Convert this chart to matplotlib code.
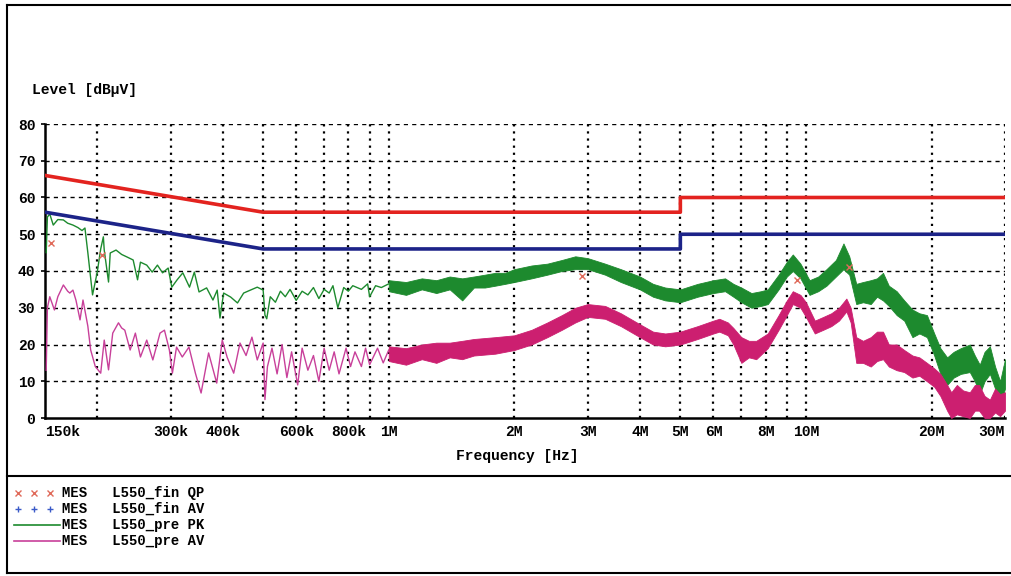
import numpy as np
import matplotlib
matplotlib.use('Agg')
import matplotlib.pyplot as plt
from matplotlib.lines import Line2D

plt.rcParams['font.family'] = ['Liberation Mono', 'DejaVu Sans Mono']
plt.rcParams['font.weight'] = 'bold'

# limit lines (EN55022 class B style), MHz / dBuV
qp_lim_f = [0.15, 0.5, 0.5, 5.0, 5.0, 30.0]
qp_lim_v = [66, 56, 56, 56, 60, 60]
av_lim_f = [0.15, 0.5, 0.5, 5.0, 5.0, 30.0]
av_lim_v = [56, 46, 46, 46, 50, 50]

# PK pre-scan, low frequency part (thin trace)
pk_f = [0.151, 0.152, 0.154, 0.157, 0.161, 0.166, 0.170, 0.175, 0.180, 0.184, 0.187, 0.190,
        0.195, 0.200, 0.204, 0.207, 0.208, 0.213, 0.215, 0.222, 0.229, 0.236, 0.244, 0.250,
        0.254, 0.263, 0.271, 0.279, 0.287, 0.296, 0.302, 0.311, 0.321, 0.333, 0.342, 0.351,
        0.366, 0.379, 0.388, 0.394, 0.402, 0.418, 0.434, 0.449, 0.466, 0.484, 0.500, 0.505,
        0.510, 0.520, 0.535, 0.550, 0.565, 0.580, 0.600, 0.620, 0.640, 0.660, 0.680, 0.700,
        0.720, 0.735, 0.755, 0.780, 0.800, 0.820, 0.860, 0.890, 0.900, 0.930, 0.960, 1.0]
pk_v = [45.0, 54.7, 55.5, 52.5, 54.0, 53.9, 53.0, 52.5, 51.8, 51.0, 51.7, 45.0,
        33.5, 39.5, 46.0, 49.3, 45.7, 37.0, 44.9, 45.7, 44.5, 43.8, 43.0, 37.6,
        42.4, 41.6, 39.7, 41.6, 39.5, 40.8, 35.6, 37.6, 39.5, 35.6, 39.7, 34.3,
        35.4, 32.1, 34.8, 27.2, 34.0, 32.9, 31.3, 34.0, 34.8, 35.6, 34.8, 28.0,
        27.0, 33.0, 31.5, 34.5, 33.0, 35.0, 32.0, 34.5, 33.5, 35.5, 32.5, 35.0,
        34.0, 36.0, 30.0, 35.5, 34.5, 36.0, 35.0, 36.5, 33.0, 36.0, 35.5, 36.5]

# PK pre-scan, high frequency part (dense noisy band: lower / upper edge)
pk_band_f = [1.0, 1.1, 1.2, 1.3, 1.4, 1.5, 1.6, 1.7, 1.8, 1.9, 2.0, 2.2, 2.4, 2.6, 2.8,
             3.0, 3.3, 3.6, 4.0, 4.3, 4.6, 5.0, 5.5, 6.0, 6.4, 6.7, 7.0, 7.4, 7.8, 8.1,
             8.6, 9.0, 9.3, 9.7, 10.2, 10.7, 11.2, 11.8, 12.3, 12.7, 13.2, 13.7, 14.3,
             14.8, 15.3, 15.8, 16.5, 17.2, 18.0, 18.7, 19.5, 20.3, 21.0, 21.8, 22.6,
             23.5, 24.7, 25.4, 26.1, 26.8, 27.6, 28.4, 29.2, 30.0]
pk_band_lo = [34.5, 33.5, 35.0, 34.0, 35.0, 32.0, 35.5, 35.5, 36.0, 36.5, 37.0, 38.0, 39.0,
              40.0, 40.5, 40.5, 39.0, 37.0, 35.0, 33.0, 32.0, 31.5, 33.0, 34.0, 34.5, 33.0,
              31.5, 30.0, 30.5, 31.0, 35.0, 38.5, 40.0, 38.0, 33.5, 34.5, 36.0, 38.5, 40.5,
              39.0, 31.0, 31.5, 31.0, 33.0, 32.0, 30.5, 28.0, 26.5, 22.0, 23.0, 22.0, 17.0,
              12.0, 9.0, 11.0, 12.0, 12.5, 10.0, 6.5, 10.0, 12.0, 8.0, 3.5, 8.0]
pk_band_hi = [37.5, 37.0, 38.0, 37.5, 38.5, 38.0, 38.5, 39.0, 39.5, 39.5, 40.5, 41.5, 42.0,
              43.0, 44.0, 43.5, 42.0, 40.5, 38.5, 36.5, 35.5, 35.0, 36.5, 37.5, 38.0, 36.5,
              35.5, 34.0, 34.5, 35.0, 39.0, 42.5, 44.5, 42.0, 37.5, 38.5, 40.5, 43.0, 47.5,
              44.0, 36.5, 37.0, 37.5, 38.0, 39.5, 36.0, 34.5, 32.0, 29.5, 28.5, 28.0, 23.0,
              19.0, 16.5, 18.0, 19.0, 20.0, 17.0, 14.5, 18.0, 19.5, 14.0, 10.0, 16.0]

# AV pre-scan, low frequency part
av_f = [0.151, 0.152, 0.154, 0.158, 0.161, 0.166, 0.170, 0.172, 0.175, 0.178, 0.182, 0.185,
        0.190, 0.193, 0.198, 0.204, 0.208, 0.213, 0.218, 0.225, 0.229, 0.233, 0.240, 0.247,
        0.254, 0.263, 0.272, 0.283, 0.290, 0.298, 0.303, 0.310, 0.320, 0.332, 0.344, 0.355,
        0.370, 0.387, 0.399, 0.410, 0.425, 0.440, 0.455, 0.470, 0.484, 0.500, 0.505, 0.512,
        0.525, 0.540, 0.555, 0.570, 0.585, 0.605, 0.620, 0.640, 0.660, 0.680, 0.700, 0.720,
        0.740, 0.760, 0.790, 0.810, 0.830, 0.860, 0.880, 0.900, 0.940, 0.970, 1.0]
av_v = [13.0, 30.0, 33.0, 29.4, 33.0, 36.2, 34.5, 34.0, 34.8, 32.0, 26.7, 32.1,
        25.0, 18.5, 14.0, 12.2, 21.2, 13.1, 23.1, 25.9, 24.5, 23.9, 18.5, 23.1,
        16.6, 21.2, 15.8, 23.1, 23.9, 18.5, 12.2, 19.3, 16.6, 19.3, 12.2, 6.8,
        17.7, 9.5, 21.2, 16.5, 12.2, 20.4, 17.0, 22.0, 15.8, 20.4, 5.0, 14.0,
        19.0, 12.0, 20.0, 11.0, 18.0, 9.0, 19.0, 13.0, 17.0, 10.0, 19.0, 13.0,
        18.0, 12.0, 19.0, 14.0, 18.0, 14.0, 19.0, 14.5, 19.0, 15.0, 18.5]

av_band_f = [1.0, 1.1, 1.2, 1.3, 1.4, 1.5, 1.6, 1.8, 2.0, 2.2, 2.4, 2.6, 2.8, 3.0, 3.3,
             3.6, 4.0, 4.3, 4.6, 5.0, 5.5, 6.0, 6.2, 6.5, 6.7, 7.0, 7.3, 7.6, 8.1, 8.6,
             9.0, 9.3, 9.7, 10.0, 10.5, 11.0, 11.5, 12.0, 12.5, 12.8, 13.2, 13.7, 14.3,
             14.8, 15.3, 15.8, 16.5, 17.2, 18.0, 18.7, 19.5, 20.3, 21.0, 21.8, 22.3,
             23.0, 23.8, 24.7, 25.4, 26.0, 26.8, 27.6, 28.4, 29.2, 30.0]
av_band_lo = [15.5, 14.5, 16.0, 15.0, 16.5, 16.0, 17.0, 17.5, 18.5, 20.0, 22.0, 24.0, 26.0,
              27.5, 27.0, 25.0, 22.0, 20.0, 19.5, 20.0, 21.5, 23.0, 23.5, 22.5, 20.0, 15.0,
              16.5, 16.0, 19.0, 24.0, 28.0, 31.0, 30.0, 27.5, 23.0, 24.0, 25.0, 26.5, 29.0,
              26.0, 15.0, 15.0, 14.0, 15.5, 16.0, 14.0, 13.0, 12.5, 11.0, 11.5, 10.0, 8.5,
              6.0, 2.0, 0.0, 1.0, 0.5, 0.0, 2.0, 2.0, 0.0, 0.0, 1.5, 0.5, 2.0]
av_band_hi = [19.5, 19.0, 20.0, 20.5, 20.5, 21.0, 21.5, 22.0, 22.5, 24.0, 26.0, 28.0, 30.0,
              31.0, 30.5, 28.5, 25.5, 23.5, 23.0, 23.5, 25.0, 26.5, 27.0, 26.0, 24.5, 22.0,
              21.0, 21.0, 23.0, 28.0, 32.0, 34.5, 33.5, 31.5, 26.5, 27.5, 28.5, 30.0, 32.5,
              30.0, 22.0, 21.0, 22.0, 23.5, 23.5, 20.0, 20.0, 18.5, 17.0, 16.5, 15.0, 13.5,
              12.0, 9.0, 7.0, 9.0, 7.5, 7.0, 9.0, 9.0, 6.0, 5.0, 8.0, 6.5, 7.0]

# final QP measurements
qp_f = [0.155, 0.205, 2.9, 9.5, 12.7]
qp_v = [47.6, 44.4, 38.6, 37.5, 41.0]

grid_f = [0.2, 0.3, 0.4, 0.5, 0.6, 0.7, 0.8, 0.9, 1, 2, 3, 4, 5, 6, 7, 8, 9, 10, 20, 30]
label_f = [0.15, 0.3, 0.4, 0.6, 0.8, 1, 2, 3, 4, 5, 6, 8, 10, 20, 30]
label_txt = ['150k', '300k', '400k', '600k', '800k', '1M', '2M', '3M', '4M', '5M',
             '6M', '8M', '10M', '20M', '30M']

RED = '#e3231f'
BLUE = '#1c2388'
GREEN = '#1d8a2e'
MAG = '#cc1f70'
MAG_LF = '#c8409a'

fig = plt.figure(figsize=(10.11, 5.76), dpi=100)
ax = fig.add_axes([45 / 1011, 1 - 418 / 576, 960 / 1011, 294 / 576])
ax.set_xscale('log')
ax.set_xlim(0.15, 30)
ax.set_ylim(0, 80)

# grid
for g in grid_f:
    ax.axvline(g, color='black', lw=1.6, ls=(0, (1, 2.2)), zorder=1)
for yv in range(10, 90, 10):
    ax.axhline(yv, color='black', lw=1.0, ls=(0, (3, 3)), zorder=1)

# traces
ax.plot(pk_f, pk_v, color=GREEN, lw=1.0, zorder=3)
ax.fill_between(pk_band_f, pk_band_lo, pk_band_hi, color=GREEN, lw=0.6, zorder=3)
ax.plot(av_f, av_v, color=MAG_LF, lw=1.0, zorder=3)
ax.fill_between(av_band_f, av_band_lo, av_band_hi, color=MAG, lw=0.6, zorder=3)

ax.plot(qp_lim_f, qp_lim_v, color=RED, lw=2.6, zorder=4)
ax.plot(av_lim_f, av_lim_v, color=BLUE, lw=2.6, zorder=4)

ax.plot(qp_f, qp_v, ls='none', marker='x', color='#e06a5a', ms=5, mew=1.0, zorder=5)

for s in ['top', 'right']:
    ax.spines[s].set_visible(False)
for s in ['left', 'bottom']:
    ax.spines[s].set_linewidth(1.8)

ax.set_xticks(label_f)
ax.set_xticklabels(label_txt)
ax.xaxis.set_minor_locator(matplotlib.ticker.NullLocator())
ax.tick_params(axis='x', length=0, pad=5, labelsize=10.5)
ax.set_yticks(range(0, 90, 10))
ax.tick_params(axis='y', length=3, width=1.2, pad=4, labelsize=10.5)
xl = ax.get_xticklabels()
xl[0].set_ha('left')
xl[-1].set_ha('right')

fig.text(32 / 1011, 1 - 90 / 576, 'Level [dBµV]', fontsize=10.5, va='center', ha='left')
fig.text(517 / 1011, 1 - 456 / 576, 'Frequency [Hz]', fontsize=10.5, va='center', ha='center')

# outer frame and legend separator
fr = dict(color='black', lw=1.5, transform=fig.transFigure, clip_on=False)
fig.add_artist(Line2D([7 / 1011, 7 / 1011], [1 - 5 / 576, 1 - 573 / 576], **fr))
fig.add_artist(Line2D([7 / 1011, 1.0], [1 - 5 / 576, 1 - 5 / 576], **fr))
fig.add_artist(Line2D([7 / 1011, 1.0], [1 - 476 / 576, 1 - 476 / 576], **fr))
fig.add_artist(Line2D([7 / 1011, 1.0], [1 - 573 / 576, 1 - 573 / 576], **fr))

# legend block
leg_rows = [('x', '#e06a5a', 'MES   L550_fin QP'),
            ('+', '#3a5ac8', 'MES   L550_fin AV'),
            ('-', GREEN, 'MES   L550_pre PK'),
            ('-', MAG_LF, 'MES   L550_pre AV')]
for i, (m, c, t) in enumerate(leg_rows):
    yy = 1 - (493 + 16 * i) / 576
    if m == '-':
        fig.add_artist(Line2D([14 / 1011, 60 / 1011], [yy, yy], color=c, lw=1.2,
                              transform=fig.transFigure))
    else:
        fig.add_artist(Line2D([18 / 1011, 34 / 1011, 50 / 1011], [yy] * 3, ls='none',
                              marker=m, color=c, ms=5, mew=1.0, transform=fig.transFigure))
    fig.text(62 / 1011, yy, t, fontsize=10, va='center', ha='left')

fig.savefig('out.png', dpi=100, facecolor='white')
